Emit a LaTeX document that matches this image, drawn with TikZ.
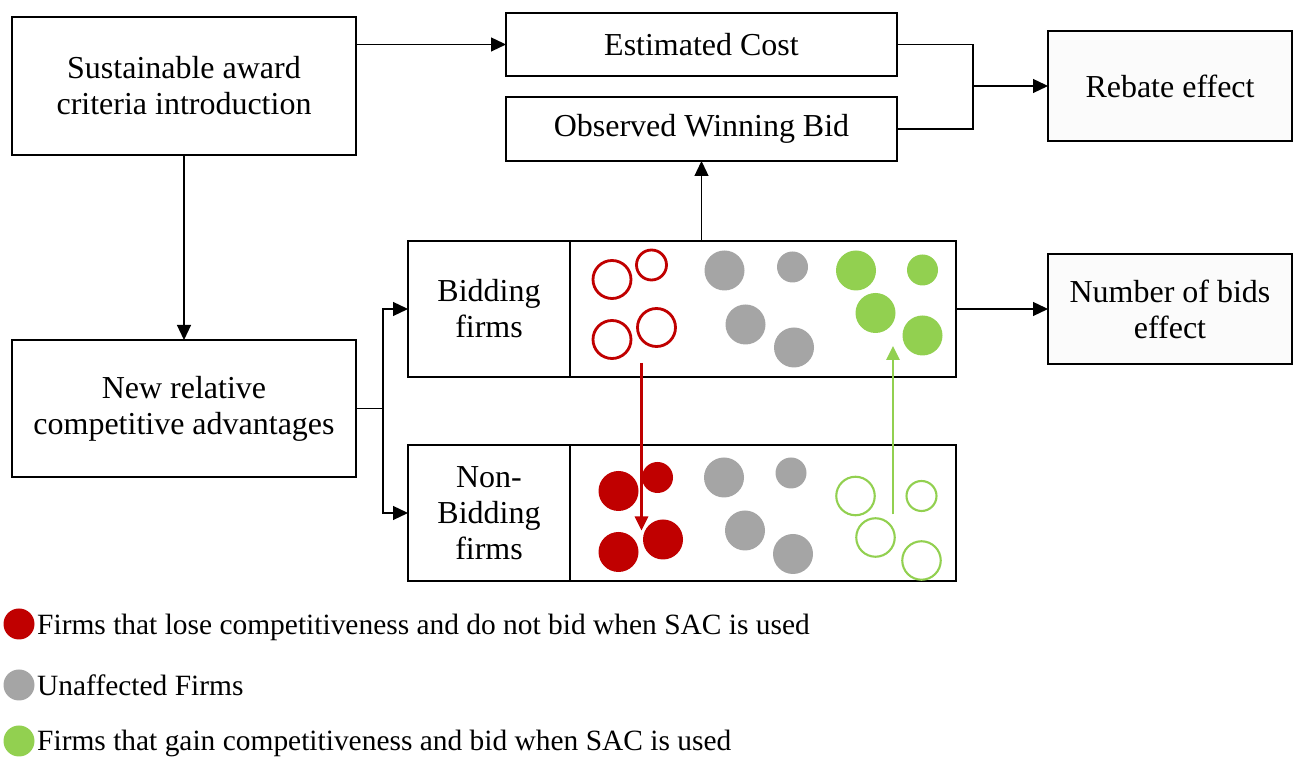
\documentclass[tikz,border=0pt]{standalone}
\usepackage{fontspec}
\setmainfont{Liberation Serif}
\usetikzlibrary{arrows.meta, positioning}
\definecolor{loseRed}{HTML}{C00000}
\definecolor{keepGray}{HTML}{A5A5A5}
\definecolor{gainGreen}{HTML}{92D050}

\tikzset{
  box/.style={draw, line width=1.2pt, align=center, inner sep=0pt, outer sep=0pt,
    font=\fontsize{18.2}{20.5}\selectfont},
  effect/.style={box, line width=0.9pt, fill=gray!3, minimum width=4.88cm, minimum height=2.2cm},
  link/.style={line width=0.7pt, -{Triangle[length=0.3cm, width=0.28cm]}},
  move/.style={line width=1.5pt, -{Triangle[length=0.28cm, width=0.26cm]}},
  legend/.style={inner sep=0pt, font=\fontsize{16.75}{19}\selectfont},
  dot/.style={circle, inner sep=0pt, minimum size=0.62cm}
}

\begin{document}
\begin{tikzpicture}
\useasboundingbox (0,0) rectangle (25.92,15.16);

% left column
\node[box, minimum width=6.88cm, minimum height=2.76cm] (sac) at (3.68,13.44)
  {Sustainable award\\criteria introduction};
\node[box, minimum width=6.88cm, minimum height=2.74cm] (adv) at (3.68,6.99)
  {New relative\\competitive advantages};

% bids
\node[box, minimum width=7.82cm, minimum height=1.26cm] (cost) at (14.03,14.27) {Estimated Cost};
\node[box, minimum width=7.82cm, minimum height=1.28cm] (bid) at (14.03,12.58) {Observed Winning Bid};

% effects
\node[effect] (rebate) at (23.40,13.44) {Rebate effect};
\node[effect] (nbids) at (23.40,8.98) {Number of bids\\effect};

% firm pools
\node[box, minimum width=3.24cm, minimum height=2.72cm] (bidlab) at (9.78,8.98) {Bidding\\firms};
\node[box, minimum width=7.72cm, minimum height=2.72cm] (bidpool) at (15.26,8.98) {};
\node[box, minimum width=3.24cm, minimum height=2.72cm] (nonlab) at (9.78,4.90) {Non-\\Bidding\\firms};
\node[box, minimum width=7.72cm, minimum height=2.72cm] (nonpool) at (15.26,4.90) {};

% bidding firms
\foreach \x/\y/\r in {12.24/9.57/0.38, 13.03/9.86/0.30, 12.24/8.37/0.38, 13.13/8.61/0.38}
  \draw[loseRed, line width=1.6pt] (\x,\y) circle (\r);
\foreach \x/\y/\r in {14.49/9.75/0.40, 15.85/9.82/0.31, 14.91/8.67/0.40, 15.88/8.21/0.40}
  \fill[keepGray] (\x,\y) circle (\r);
\foreach \x/\y/\r in {17.12/9.75/0.40, 18.45/9.76/0.31, 17.51/8.90/0.40, 18.45/8.45/0.40}
  \fill[gainGreen] (\x,\y) circle (\r);

% non-bidding firms
\foreach \x/\y/\r in {12.37/5.34/0.40, 13.15/5.61/0.31, 12.37/4.12/0.40, 13.26/4.37/0.40}
  \fill[loseRed] (\x,\y) circle (\r);
\foreach \x/\y/\r in {14.48/5.61/0.40, 15.82/5.70/0.31, 14.90/4.55/0.40, 15.86/4.08/0.40}
  \fill[keepGray] (\x,\y) circle (\r);
\foreach \x/\y/\r in {17.11/5.24/0.385, 18.43/5.24/0.30, 17.51/4.41/0.385, 18.43/3.95/0.385}
  \draw[gainGreen, line width=1.2pt] (\x,\y) circle (\r);

% moves between pools
\coordinate (loseA) at (12.83,7.90);
\coordinate (loseB) at (12.83,4.55);
\coordinate (gainA) at (17.86,4.87);
\coordinate (gainB) at (17.86,8.24);
\draw[move, loseRed] (loseA) -- (loseB);
\draw[move, gainGreen] (gainA) -- (gainB);

% connectors
\coordinate (join) at (19.46,13.44);
\coordinate (split) at (7.66,6.99);
\draw[link] (sac.east |- cost.west) -- (cost.west);
\draw[link] (sac.south) -- (adv.north);
\draw[line width=0.7pt] (cost.east) -| (join) |- (bid.east);
\draw[link] (join) -- (rebate.west);
\draw[line width=0.7pt] (adv.east) -- (split);
\draw[link] (split) |- (bidlab.west);
\draw[link] (split) |- (nonlab.west);
\draw[link] (bid.south |- bidpool.north) -- (bid.south);
\draw[link] (bidpool.east) -- (nbids.west);

% legend
\node[dot, fill=loseRed] (klose) at (0.38,2.68) {};
\node[dot, fill=keepGray] (kkeep) at (0.38,1.46) {};
\node[dot, fill=gainGreen] (kgain) at (0.38,0.34) {};
\node[legend, right=0.04cm of klose, yshift=-0.06cm] {Firms that lose competitiveness and do not bid when SAC is used};
\node[legend, right=0.04cm of kkeep] {Unaffected Firms};
\node[legend, right=0.04cm of kgain, yshift=-0.04cm] {Firms that gain competitiveness and bid when SAC is used};
\end{tikzpicture}
\end{document}
